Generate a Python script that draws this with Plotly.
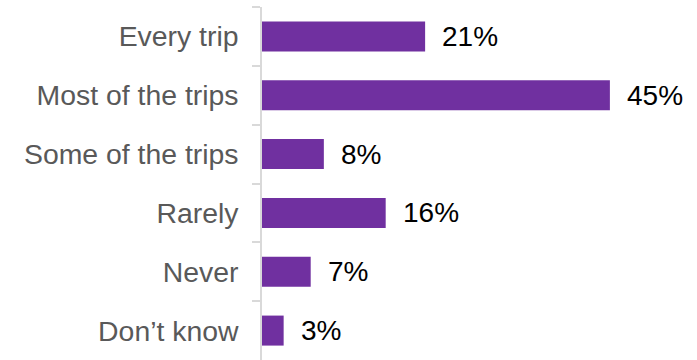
import plotly.graph_objects as go

categories = ["Every trip", "Most of the trips", "Some of the trips", "Rarely", "Never", "Don\u2019t know"]
values = [21.1, 45.0, 8.0, 16.0, 6.3, 2.8]
value_labels = ["21%", "45%", "8%", "16%", "7%", "3%"]

BAR = "#7030A0"
FONT = "Liberation Sans, Arial, sans-serif"

fig = go.Figure()
fig.add_trace(go.Bar(
    x=values, y=categories, orientation="h",
    marker=dict(color=BAR, line=dict(width=0)),
    hoverinfo="skip",
))

for c, v, t in zip(categories, values, value_labels):
    fig.add_annotation(x=v, y=c, text=t, showarrow=False, xanchor="left", yanchor="middle",
                       xshift=15, font=dict(family=FONT, size=28, color="#000000"))

fig.update_layout(
    width=697, height=360,
    margin=dict(l=262, r=50, t=7, b=0),
    paper_bgcolor="white", plot_bgcolor="white",
    bargap=0.49,
    showlegend=False,
    font=dict(family=FONT),
)
fig.update_xaxes(range=[0, 49.8], visible=False, showgrid=False, zeroline=False)
fig.update_yaxes(
    categoryorder="array", categoryarray=categories, autorange="reversed",
    showline=True, linecolor="#D9D9D9", linewidth=1.5,
    ticks="outside", tickson="boundaries", ticklen=8, tickcolor="#D9D9D9", tickwidth=1.5,
    ticklabelstandoff=16, automargin=False,
    tickfont=dict(family=FONT, size=28.4, color="#595959"),
    showgrid=False, zeroline=False,
)

fig.write_html("out.html", config={"displayModeBar": False},
               post_script="document.body.style.margin='0';")
